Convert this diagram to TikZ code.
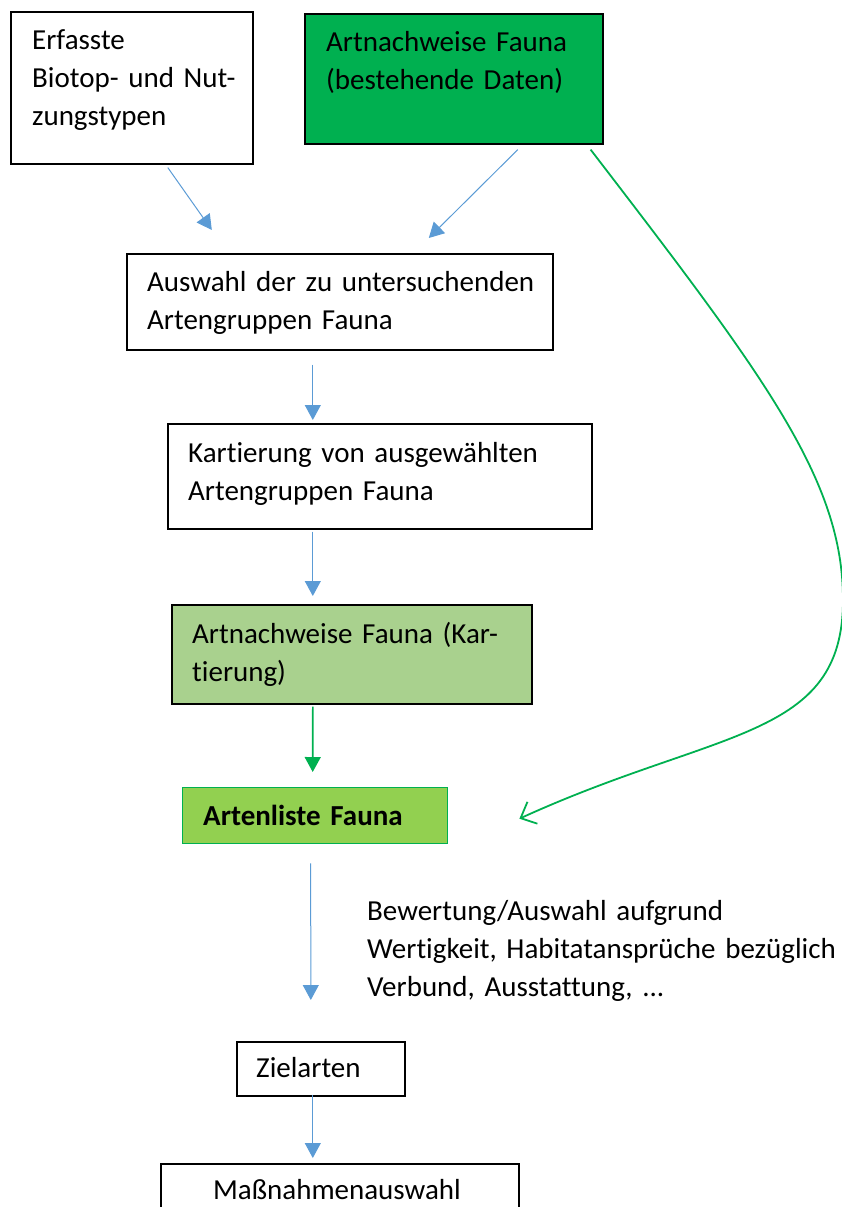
\documentclass[tikz,border=0pt]{standalone}
\usepackage{fontspec}
\setmainfont{Carlito}[Ligatures=NoCommon]
\usetikzlibrary{calc,arrows.meta}
\definecolor{boxgreen}{HTML}{00B050}
\definecolor{palegreen}{HTML}{A9D18E}
\definecolor{limegreen}{HTML}{92D050}
\definecolor{arrowblue}{HTML}{5B9BD5}
\tikzset{
  box/.style={draw=black, line width=1.6pt, anchor=north west, inner sep=0pt, rectangle},
  txt/.style={anchor=base west, inner sep=0pt, text width=470pt, align=left,
    font=\fontsize{29}{38}\selectfont},
  barrow/.style={draw=arrowblue, line width=1pt, -{Triangle[length=15pt,width=16pt]}},
  garrow/.style={draw=boxgreen, line width=1.6pt, -{Triangle[length=15pt,width=16pt]}},
  gcurve/.style={draw=boxgreen, line width=1.8pt, -{Straight Barb[length=13pt,width=24pt,line width=1.8pt]}}
}
\begin{document}
\begin{tikzpicture}[x=1pt, y=-1pt]
\useasboundingbox (0,0) rectangle (841,1207);

% boxes
\node[box, minimum width=242pt, minimum height=152pt] (b1) at (10,11) {};
\node[box, fill=boxgreen, minimum width=298pt, minimum height=130pt] (b2) at (304,13) {};
\node[box, minimum width=426pt, minimum height=96pt] (b3) at (126,253) {};
\node[box, minimum width=424pt, minimum height=105pt] (b4) at (167,423) {};
\node[box, fill=palegreen, minimum width=360pt, minimum height=99pt] (b5) at (171,604) {};
\node[box, draw=boxgreen, line width=1.4pt, fill=limegreen, minimum width=265pt, minimum height=56pt] (b6) at (182,787) {};
\node[box, minimum width=168pt, minimum height=54pt] (b7) at (236,1041) {};
\node[box, minimum width=358pt, minimum height=70pt] (b8) at (160,1163) {};

% box texts
\node[txt] (t1) at (32,49) {Erfasste\\Biotop- und Nut-\\zungstypen};
\node[txt] (t2) at (326,52) {Artnachweise Fauna\\(bestehende Daten)};
\node[txt] (t3) at (147,291) {Auswahl der zu untersuchenden\\Artengruppen Fauna};
\node[txt] (t4) at (188,462) {Kartierung von ausgewählten\\Artengruppen Fauna};
\node[txt] (t5) at (192,643) {Artnachweise Fauna (Kar-\\tierung)};
\node[txt, font=\fontsize{29}{38}\selectfont\bfseries] (t6) at (203,825) {Artenliste Fauna};
\node[txt] (t7) at (367,920) {Bewertung/Auswahl aufgrund\\Wertigkeit, Habitatansprüche bezüglich\\Verbund, Ausstattung, ...};
\node[txt] (t8) at (256,1077) {Zielarten};
\node[txt] (t9) at (213,1199) {Maßnahmenauswahl};

% connectors
\draw[barrow] ($(b1.south)+(36,3)$) -- ($(b3.north)+(-128,-23)$);
\draw[barrow] ($(b2.south)+(64,5)$) -- ($(b3.north)+(89,-15)$);
\draw[barrow] ($(b3.south)+(-27,14)$) -- ($(b4.north)+(-67,-3)$);
\draw[barrow] ($(b4.south)+(-67,2)$) -- ($(b5.north)+(-39,-8)$);
\draw[garrow] ($(b5.south)+(-39,2)$) -- ($(b6.north)+(-2.5,-15)$);
\draw[barrow] ($(b6.south)+(-4.5,19)$) -- ($(b7.north)+(-10,-41)$);
\draw[barrow] ($(b7.south)+(-8,-2)$) -- ($(b8.north)+(-27,-5)$);

% long curved link from the existing data to the species list
\coordinate (gs) at ($(b2.south east)+(-13,5)$);
\coordinate (ge) at ($(b6.east)+(71,3)$);
\coordinate (gm) at (843,600);
\draw[gcurve] (gs) .. controls (766,378) and (843,480) .. (gm)
  .. controls (843,740) and (718,728) .. (ge);
\end{tikzpicture}
\end{document}
